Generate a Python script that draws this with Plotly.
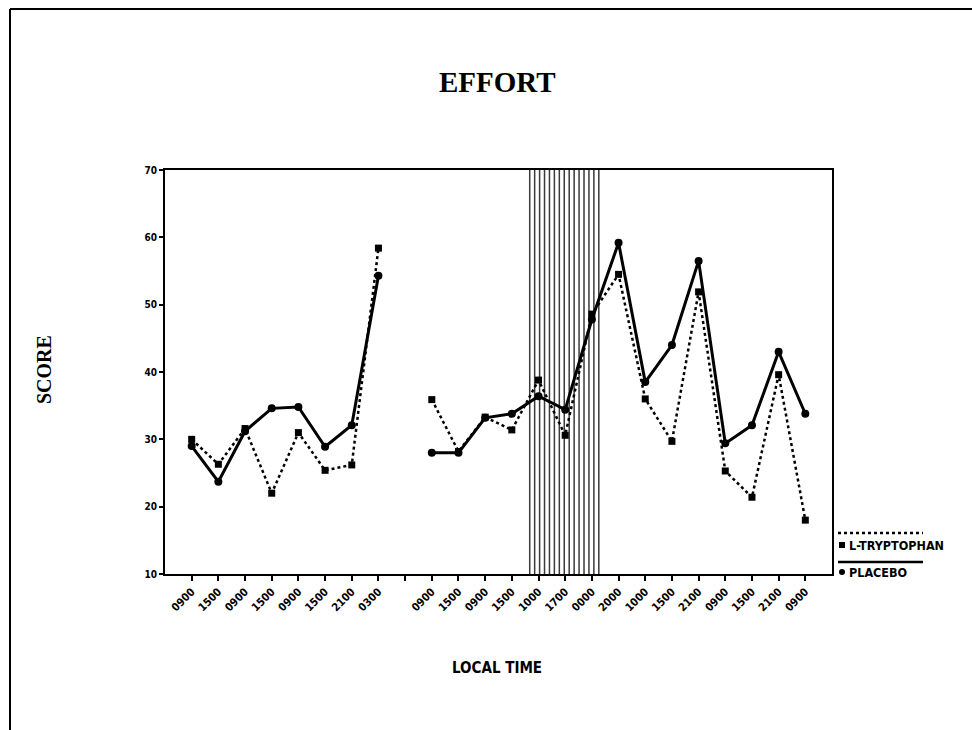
import plotly.graph_objects as go

# Sampling times (two sessions separated by a break; the blank slot marks the break)
time_labels = ["0900", "1500", "0900", "1500", "0900", "1500", "2100", "0300",
               "",
               "0900", "1500", "0900", "1500", "1000", "1700", "0000", "2000",
               "1000", "1500", "2100", "0900", "1500", "2100", "0900"]

tryptophan = [30.0, 26.3, 31.6, 22.0, 31.0, 25.4, 26.2, 58.4,
              None,
              35.9, 28.2, 33.3, 31.4, 38.8, 30.6, 48.6, 54.5,
              36.0, 29.7, 51.9, 25.3, 21.4, 39.6, 18.0]

placebo = [29.0, 23.7, 31.2, 34.6, 34.8, 28.9, 32.1, 54.3,
           None,
           28.0, 28.0, 33.2, 33.8, 36.4, 34.4, 47.8, 59.2,
           38.5, 44.0, 56.5, 29.4, 32.1, 43.0, 33.8]

# Shaded interval (in slot units along the time axis)
shade_start, shade_end = 12.67, 15.26

positions = list(range(len(time_labels)))

fig = go.Figure()

fig.add_trace(go.Scatter(
    x=positions, y=tryptophan, mode="lines+markers", name="L-TRYPTOPHAN",
    line=dict(color="black", width=2.5, dash="dot"),
    marker=dict(symbol="square", size=7, color="black"),
    connectgaps=False, showlegend=False,
))
fig.add_trace(go.Scatter(
    x=positions, y=placebo, mode="lines+markers", name="PLACEBO",
    line=dict(color="black", width=3),
    marker=dict(symbol="circle", size=8, color="black"),
    connectgaps=False, showlegend=False,
))

# vertical hatching over the shaded interval
n_lines = 15
shapes = []
for i in range(n_lines):
    xv = shade_start + (shade_end - shade_start) * i / (n_lines - 1)
    shapes.append(dict(type="line", xref="x", yref="y", x0=xv, x1=xv, y0=10, y1=70,
                       line=dict(color="#3a3a3a", width=1.5), layer="below"))

# page geometry (pixels) used to place the frame, titles and legend keys
W, H = 972, 730
L, R, T, B = 165, 832, 170, 574
pw, ph = R - L, B - T


def px(xp):
    return (xp - L) / pw


def py(yp):
    return (B - yp) / ph


# outer frame of the page
shapes.append(dict(type="line", xref="paper", yref="paper",
                   x0=px(10), x1=px(972), y0=py(9), y1=py(9),
                   line=dict(color="black", width=2)))
shapes.append(dict(type="line", xref="paper", yref="paper",
                   x0=px(10), x1=px(10), y0=py(9), y1=py(730),
                   line=dict(color="black", width=2)))

# legend keys
shapes.append(dict(type="line", xref="paper", yref="paper",
                   x0=px(838), x1=px(923), y0=py(533), y1=py(533),
                   line=dict(color="black", width=2.5, dash="dot")))
shapes.append(dict(type="line", xref="paper", yref="paper",
                   x0=px(838), x1=px(923), y0=py(562), y1=py(562),
                   line=dict(color="black", width=2.5)))
shapes.append(dict(type="rect", xref="paper", yref="paper",
                   x0=px(839), x1=px(845), y0=py(542), y1=py(548),
                   fillcolor="black", line=dict(width=0)))
shapes.append(dict(type="circle", xref="paper", yref="paper",
                   x0=px(839), x1=px(845), y0=py(569), y1=py(575),
                   fillcolor="black", line=dict(width=0)))


def label(text, x, y, font, xanchor="center", angle=0):
    return dict(text=text, xref="paper", yref="paper", x=px(x), y=py(y),
                xanchor=xanchor, yanchor="middle", showarrow=False,
                textangle=angle, font=font)


annotations = [
    label("<b>EFFORT</b>", 497, 82,
          dict(family="Liberation Serif", size=29, color="black")),
    label("<b>SCORE</b>", 44, 370,
          dict(family="Liberation Serif", size=20, color="black"), angle=-90),
    label("<b>LOCAL TIME</b>", 497, 668,
          dict(family="DejaVu Sans Condensed", size=15, color="black")),
    label("<b>L-TRYPTOPHAN</b>", 847, 545,
          dict(family="DejaVu Sans Condensed", size=12.5, color="black"), xanchor="left"),
    label("<b>PLACEBO</b>", 847, 572,
          dict(family="DejaVu Sans Condensed", size=12.5, color="black"), xanchor="left"),
]

fig.update_layout(
    width=W, height=H,
    margin=dict(l=L, r=W - R, t=T, b=H - B, pad=0),
    paper_bgcolor="white", plot_bgcolor="white",
    shapes=shapes, annotations=annotations,
    showlegend=False,
)

fig.update_xaxes(
    range=[-1, 24], tickmode="array", tickvals=positions, ticktext=time_labels,
    tickangle=-45, ticks="outside", ticklen=5, tickwidth=2, tickcolor="black",
    showline=True, linecolor="black", linewidth=2, mirror=True,
    showgrid=False, zeroline=False,
    tickfont=dict(family="DejaVu Sans Condensed", size=11, color="black", weight="bold"),
)
fig.update_yaxes(
    range=[10, 70], tickmode="array", tickvals=[10, 20, 30, 40, 50, 60, 70],
    ticks="outside", ticklen=4, tickwidth=2, tickcolor="black",
    showline=True, linecolor="black", linewidth=2, mirror=True,
    showgrid=False, zeroline=False,
    tickfont=dict(family="DejaVu Sans Condensed", size=10, color="black", weight="bold"),
)

fig.write_html("out.html")
